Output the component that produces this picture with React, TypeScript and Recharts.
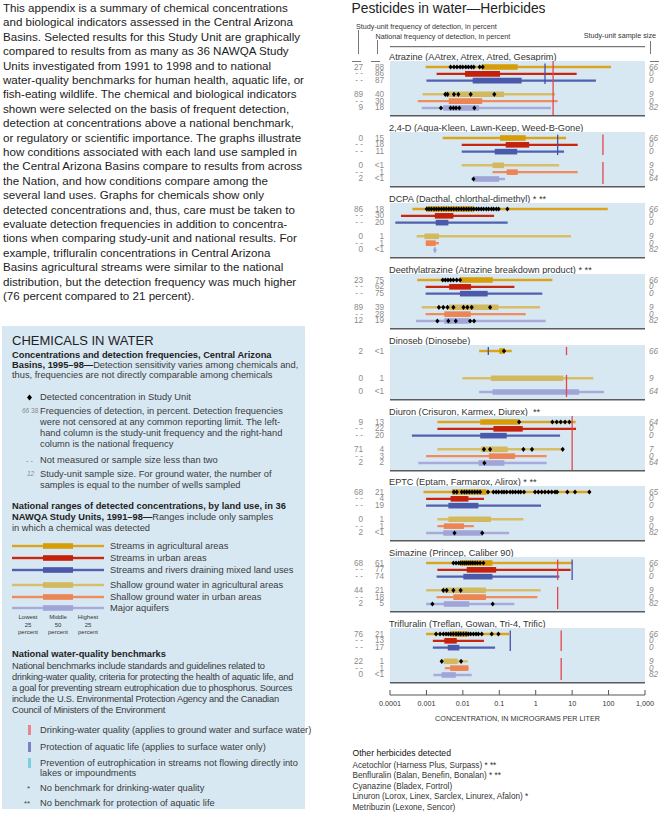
import React from "react";
import {
  ComposedChart,
  XAxis,
  YAxis,
  Line,
  Scatter,
  ReferenceLine,
  ReferenceArea,
} from "recharts";

const FONT = '"Liberation Sans", Arial, Helvetica, sans-serif';
const PANEL_BG = "#d8e8f3";

// concentration axis, micrograms per liter
const X_DOMAIN = [0.0001, 1000];
const X_TICKS = [0.0001, 0.001, 0.01, 0.1, 1, 10, 100, 1000];
const X_TICK_LABELS = ["0.0001", "0.001", "0.01", "0.1", "1", "10", "100", "1,000"];

// land uses in drawing order; slot 3 is the gap between surface and ground water
const LAND_USES = [
  "Streams in agricultural areas",
  "Streams in urban areas",
  "Streams and rivers draining mixed land uses",
  "Shallow ground water in agricultural areas",
  "Shallow ground water in urban areas",
  "Major aquifers",
];
const ROW_SLOTS = [0, 1, 2, 4, 5, 6];
const WHISKER_COLORS = ["#daa41f", "#c9260f", "#5161b0", "#d7be68", "#ef8b5c", "#a8aadb"];
const BOX_COLORS = ["#d69d08", "#c5200a", "#4a59a9", "#d3b95e", "#ec8453", "#a1a4d7"];

// [min, 25th percentile, 75th percentile, max] per land use; null = not shown
const ATRAZINE_RANGES = [
  [0.00095, 0.033, 0.32, 117],
  [0.0019, 0.0115, 0.105, 13.3],
  [0.001, 0.0186, 0.41, 45],
  [0.00078, 0.0032, 0.135, 3.4],
  [0.00058, 0.0041, 0.034, 4.0],
  [0.00074, 0.0029, 0.028, 2.6],
];
const ATRAZINE_DETECTS = [
  [0.0046, 0.0057, 0.0069, 0.0084, 0.0099, 0.012, 0.0142, 0.0171, 0.0199, 0.029, 0.035],
  [],
  [],
  [0.0033, 0.0038, 0.0057, 0.0075, 0.0164, 0.073],
  [],
  [0.0025, 0.0046, 0.0055, 0.0065, 0.008, 0.0207],
];
const ATRAZINE_FREQ = [["27", "88", "66"], ["--", "86", "0"], ["--", "87", "0"], ["89", "40", "9"], ["--", "30", "0"], ["9", "18", "82"]];
const ATRAZINE_BENCH = [
  { value: 1.8, kind: "life", spans: ["surface"] },
  { value: 3, kind: "drink", spans: ["all"] },
];

const D24_RANGES = [
  [0.0028, 0.105, 0.53, 6.8],
  [0.0093, 0.15, 0.66, 14.2],
  [0.0093, 0.075, 0.31, 6.0],
  [0.0093, 0.065, 0.135, 4.4],
  [0.065, 0.16, 0.32, 14.2],
  [0.0195, 0.0195, 0.099, 0.144],
];
const D24_DETECTS = [[], [], [], [], [], [0.0195]];
const D24_FREQ = [["0", "15", "66"], ["--", "18", "0"], ["--", "11", "0"], ["0", "<1", "9"], ["--", "1", "0"], ["2", "<1", "64"]];
const D24_BENCH = [
  { value: 4, kind: "life", spans: ["surface"] },
  { value: 70, kind: "drink", spans: ["surface", "ground"] },
];

const DCPA_RANGES = [
  [0.00041, 0.001, 0.02, 95],
  [0.0002, 0.0017, 0.0055, 0.072],
  [0.00014, 0.0018, 0.004, 0.17],
  [0.00054, 0.00088, 0.0022, 9.3],
  [0.00096, 0.00096, 0.0018, 0.0022],
  [0.00155, 0.0016, 0.0018, 0.0019],
];
const DCPA_DETECTS = [
  [0.00102, 0.00118, 0.00137, 0.00162, 0.00188, 0.00218, 0.00258, 0.003, 0.0035, 0.0041, 0.0048,
    0.0056, 0.0066, 0.0077, 0.0091, 0.0106, 0.0125, 0.0145, 0.0171, 0.02, 0.0235, 0.0272, 0.032,
    0.037, 0.044, 0.051, 0.061, 0.07, 0.083, 0.096, 0.167],
  [], [], [], [], [],
];
const DCPA_FREQ = [["86", "18", "66"], ["--", "30", "0"], ["--", "20", "0"], ["0", "1", "9"], ["--", "1", "0"], ["0", "<1", "82"]];
const DCPA_BENCH = [];

const DEA_RANGES = [
  [0.00056, 0.0083, 0.066, 2.87],
  [0.00095, 0.0042, 0.0168, 0.26],
  [0.00095, 0.0083, 0.048, 1.52],
  [0.00074, 0.0042, 0.094, 1.32],
  [0.00095, 0.0031, 0.0164, 0.53],
  [0.00052, 0.0031, 0.0148, 1.88],
];
const DEA_DETECTS = [
  [0.0028, 0.0033, 0.0039, 0.0046, 0.0055, 0.0068, 0.0084],
  [],
  [],
  [0.0022, 0.0029, 0.0038, 0.0055, 0.0104, 0.0133, 0.0175, 0.056],
  [],
  [0.002, 0.004, 0.0064, 0.0158, 0.0203],
];
const DEA_FREQ = [["23", "75", "66"], ["--", "62", "0"], ["--", "75", "0"], ["89", "39", "9"], ["--", "28", "0"], ["12", "19", "82"]];
const DEA_BENCH = [];

const DINOSEB_RANGES = [
  [0.028, 0.1, 0.14, 0.22],
  null,
  null,
  [0.0097, 0.059, 5.7, 38],
  null,
  [0.028, 0.065, 15.5, 75],
];
const DINOSEB_DETECTS = [[0.135], [], [], [], [], []];
const DINOSEB_FREQ = [["2", "<1", "66"], null, null, ["0", "1", "9"], null, ["0", "<1", "64"]];
const DINOSEB_BENCH = [
  { value: 0.05, kind: "life", spans: ["surface0"] },
  { value: 7, kind: "drink", spans: ["surface0", "ground"] },
];

const DIURON_RANGES = [
  [0.002, 0.03, 0.35, 12.5],
  [0.002, 0.069, 0.44, 12.8],
  [0.0004, 0.03, 0.16, 4.66],
  [0.002, 0.0316, 0.17, 5.75],
  [0.00098, 0.052, 0.27, 2.0],
  [0.0006, 0.027, 0.138, 2.0],
];
const DIURON_DETECTS = [
  [0.35, 2.87, 3.77, 4.86, 6.38, 8.4],
  [],
  [],
  [0.038, 0.056, 0.46, 0.79, 5.5],
  [],
  [0.039],
];
const DIURON_FREQ = [["9", "13", "64"], ["--", "22", "0"], ["--", "20", "0"], ["71", "4", "7"], ["--", "3", "0"], ["2", "2", "64"]];
const DIURON_BENCH = [{ value: 10, kind: "drink", spans: ["all"] }];

const EPTC_RANGES = [
  [0.00083, 0.005, 0.045, 29.7],
  [0.00098, 0.0046, 0.0142, 0.038],
  [0.00098, 0.004, 0.0267, 1.4],
  [0.002, 0.004, 0.059, 0.46],
  [0.002, 0.003, 0.0108, 0.02],
  [0.00098, 0.0029, 0.035, 0.186],
];
const EPTC_DETECTS = [
  [0.0057, 0.0068, 0.0093, 0.011, 0.0128, 0.0151, 0.0179, 0.0212, 0.0251, 0.0297, 0.049, 0.069,
    0.082, 0.096, 0.117, 0.135, 0.16, 0.198, 0.234, 0.277, 0.334, 0.388, 0.478, 0.96, 1.18, 1.46,
    1.8, 2.23, 2.75, 3.39, 3.85, 7.4, 12, 29.7],
  [],
  [],
  [],
  [],
  [0.0059, 0.034],
];
const EPTC_FREQ = [["68", "21", "65"], ["--", "4", "0"], ["--", "19", "0"], ["0", "1", "9"], ["--", "1", "0"], ["2", "<1", "82"]];
const EPTC_BENCH = [];

const SIMAZINE_RANGES = [
  [0.00098, 0.0084, 0.065, 10.1],
  [0.002, 0.0128, 0.082, 9.1],
  [0.0019, 0.0103, 0.065, 4.46],
  [0.00098, 0.0029, 0.043, 1.37],
  [0.0019, 0.0055, 0.043, 1.11],
  [0.00098, 0.003, 0.015, 0.26],
];
const SIMAZINE_DETECTS = [
  [0.0055, 0.0065, 0.0077, 0.0087, 0.0099, 0.0113, 0.0128, 0.0145, 0.0164, 0.0187, 0.0216, 0.0251, 0.0297, 0.0366],
  [],
  [],
  [0.0029, 0.0036, 0.0055, 0.0087],
  [],
  [0.00146, 0.066],
];
const SIMAZINE_FREQ = [["68", "61", "66"], ["--", "77", "0"], ["--", "74", "0"], ["44", "21", "9"], ["--", "18", "0"], ["2", "5", "82"]];
const SIMAZINE_BENCH = [
  { value: 4, kind: "drink", spans: ["surface", "ground"] },
  { value: 10, kind: "life", spans: ["surface"] },
];

const TRIFLURALIN_RANGES = [
  [0.00098, 0.0046, 0.0136, 0.185],
  [0.0015, 0.0031, 0.0068, 0.038],
  [0.0015, 0.00385, 0.008, 0.0766],
  [0.0025, 0.003, 0.0072, 0.0136],
  [0.0032, 0.0045, 0.0142, 0.0142],
  [0.00155, 0.0026, 0.0064, 0.0175],
];
const TRIFLURALIN_DETECTS = [
  [0.00184, 0.00237, 0.00292, 0.00346, 0.004, 0.00464, 0.0055, 0.0065, 0.00754, 0.00874, 0.01035,
    0.01225, 0.0142, 0.0164, 0.0195, 0.023, 0.0267, 0.033, 0.062, 0.0945],
  [],
  [],
  [0.00263, 0.00893],
  [],
  [],
];
const TRIFLURALIN_FREQ = [["76", "21", "66"], ["--", "13", "0"], ["--", "17", "0"], ["22", "1", "9"], ["--", "1", "0"], ["0", "<1", "82"]];
const TRIFLURALIN_BENCH = [
  { value: 0.2, kind: "life", spans: ["surface"] },
  { value: 5, kind: "drink", spans: ["surface", "ground"] },
];

const HERBICIDES = [
  { title: "Atrazine (AAtrex, Atrex, Atred, Gesaprim)", ranges: ATRAZINE_RANGES, detects: ATRAZINE_DETECTS, freq: ATRAZINE_FREQ, bench: ATRAZINE_BENCH },
  { title: "2,4-D (Aqua-Kleen, Lawn-Keep, Weed-B-Gone)", ranges: D24_RANGES, detects: D24_DETECTS, freq: D24_FREQ, bench: D24_BENCH },
  { title: "DCPA (Dacthal, chlorthal-dimethyl) * **", ranges: DCPA_RANGES, detects: DCPA_DETECTS, freq: DCPA_FREQ, bench: DCPA_BENCH },
  { title: "Deethylatrazine (Atrazine breakdown product) * **", ranges: DEA_RANGES, detects: DEA_DETECTS, freq: DEA_FREQ, bench: DEA_BENCH },
  { title: "Dinoseb (Dinosebe)", ranges: DINOSEB_RANGES, detects: DINOSEB_DETECTS, freq: DINOSEB_FREQ, bench: DINOSEB_BENCH },
  { title: "Diuron (Crisuron, Karmex, Diurex)  **", ranges: DIURON_RANGES, detects: DIURON_DETECTS, freq: DIURON_FREQ, bench: DIURON_BENCH },
  { title: "EPTC (Eptam, Farmarox, Alirox) * **", ranges: EPTC_RANGES, detects: EPTC_DETECTS, freq: EPTC_FREQ, bench: EPTC_BENCH },
  { title: "Simazine (Princep, Caliber 90)", ranges: SIMAZINE_RANGES, detects: SIMAZINE_DETECTS, freq: SIMAZINE_FREQ, bench: SIMAZINE_BENCH },
  { title: "Trifluralin (Treflan, Gowan, Tri-4, Trific)", ranges: TRIFLURALIN_RANGES, detects: TRIFLURALIN_DETECTS, freq: TRIFLURALIN_FREQ, bench: TRIFLURALIN_BENCH },
];

const OTHER_HERBICIDES = [
  "Acetochlor (Harness Plus, Surpass) * **",
  "Benfluralin (Balan, Benefin, Bonalan) * **",
  "Cyanazine (Bladex, Fortrol)",
  "Linuron (Lorox, Linex, Sarclex, Linurex, Afalon) *",
  "Metribuzin (Lexone, Sencor)",
];

const INTRO_LINES = [
  "This appendix is a summary of chemical concentrations",
  "and biological indicators assessed in the Central Arizona",
  "Basins. Selected results for this Study Unit are graphically",
  "compared to results from as many as 36 NAWQA Study",
  "Units investigated from 1991 to 1998 and to national",
  "water-quality benchmarks for human health, aquatic life, or",
  "fish-eating wildlife. The chemical and biological indicators",
  "shown were selected on the basis of frequent detection,",
  "detection at concentrations above a national benchmark,",
  "or regulatory or scientific importance. The graphs illustrate",
  "how conditions associated with each land use sampled in",
  "the Central Arizona Basins compare to results from across",
  "the Nation, and how conditions compare among the",
  "several land uses. Graphs for chemicals show only",
  "detected concentrations and, thus, care must be taken to",
  "evaluate detection frequencies in addition to concentra-",
  "tions when comparing study-unit and national results. For",
  "example, trifluralin concentrations in Central Arizona",
  "Basins agricultural streams were similar to the national",
  "distribution, but the detection frequency was much higher",
  "(76 percent compared to 21 percent).",
];

const BENCH_LINES = [
  "National benchmarks include standards and guidelines related to",
  "drinking-water quality, criteria for protecting the health of aquatic life, and",
  "a goal for preventing stream eutrophication due to phosphorus. Sources",
  "include the U.S. Environmental Protection Agency and the Canadian",
  "Council of Ministers of the Environment",
];

// panel geometry (pixels)
const ROW_PX = 6.83;
const PAD_TOP = 6;
const BG_H = 54;
const CHART_H = 57;
const FIRST_ROW_Y = 67;
const PANEL_PITCH = 70.9;
const Y_TOP = -PAD_TOP / ROW_PX;
const Y_BOTTOM = (CHART_H - PAD_TOP) / ROW_PX;
const BG_BOTTOM = (BG_H - PAD_TOP) / ROW_PX;
const RULE_Y = (BG_H - PAD_TOP + 0.8) / ROW_PX;

const SPANS: Record<string, [number, number]> = {
  all: [Y_TOP, BG_BOTTOM],
  surface: [-0.5, 2.5],
  surface0: [-0.6, 0.6],
  ground: [3.5, 6.75],
};
const BENCH_COLORS: Record<string, string> = { drink: "#e3464c", life: "#4650a6" };

const Diamond = (props: any) => {
  const { cx, cy } = props;
  if (cx == null || cy == null) return null;
  return (
    <polygon
      points={`${cx},${cy - 2.6} ${cx + 2.1},${cy} ${cx},${cy + 2.6} ${cx - 2.1},${cy}`}
      fill="#000"
    />
  );
};

const RowLabels = (props: any) => {
  const { y, payload, freq } = props;
  const lab = freq[ROW_SLOTS.indexOf(payload.value)];
  if (!lab) return null;
  const fmt = (s: string) => (s === "--" ? "- -" : s);
  return (
    <g fontFamily={FONT} fontSize={8.2} fill="#8c8c8c">
      <text x={33} y={y} textAnchor="end" dominantBaseline="central">{fmt(lab[0])}</text>
      <text x={54} y={y} textAnchor="end" dominantBaseline="central">{fmt(lab[1])}</text>
      <text x={319} y={y} textAnchor="start" dominantBaseline="central" fontStyle="italic">{lab[2]}</text>
    </g>
  );
};

function HerbicidePanel({ chem, index }: { chem: any; index: number }) {
  const top = FIRST_ROW_Y + index * PANEL_PITCH - PAD_TOP;
  const labelSlots = ROW_SLOTS.filter((_, i) => chem.freq[i]);
  const points = chem.detects.flatMap((row: number[], i: number) =>
    row.map((v) => ({ x: v, y: ROW_SLOTS[i] }))
  );
  return (
    <>
      <div
        style={{
          position: "absolute",
          left: 389,
          top: top - 10,
          lineHeight: "12px",
          fontSize: 9.2,
          color: "#333",
          whiteSpace: "pre",
        }}
      >
        {chem.title}
      </div>
      <div style={{ position: "absolute", left: 330, top }}>
        <ComposedChart width={330} height={CHART_H} margin={{ top: 0, right: 15, bottom: 0, left: 0 }}>
          <XAxis xAxisId="c" dataKey="x" type="number" scale="log" domain={X_DOMAIN} allowDataOverflow hide />
          <YAxis
            yAxisId="r"
            dataKey="y"
            type="number"
            domain={[Y_TOP, Y_BOTTOM]}
            reversed
            allowDataOverflow
            ticks={labelSlots}
            interval={0}
            width={60}
            axisLine={false}
            tickLine={false}
            tick={(p: any) => <RowLabels {...p} freq={chem.freq} />}
          />
          <ReferenceArea
            xAxisId="c"
            yAxisId="r"
            x1={X_DOMAIN[0]}
            x2={X_DOMAIN[1]}
            y1={Y_TOP}
            y2={BG_BOTTOM}
            fill={PANEL_BG}
            fillOpacity={1}
            stroke="none"
          />
          <ReferenceLine xAxisId="c" yAxisId="r" y={RULE_Y} stroke="#5a5a5a" strokeWidth={1.6} />
          {chem.ranges.map((r: number[] | null, i: number) =>
            r ? (
              <Line
                key={`w${i}`}
                xAxisId="c"
                yAxisId="r"
                data={[{ x: r[0], y: ROW_SLOTS[i] }, { x: r[3], y: ROW_SLOTS[i] }]}
                dataKey="y"
                name={LAND_USES[i]}
                stroke={WHISKER_COLORS[i]}
                strokeWidth={2.4}
                dot={false}
                activeDot={false}
                isAnimationActive={false}
              />
            ) : null
          )}
          {chem.ranges.map((r: number[] | null, i: number) =>
            r ? (
              <Line
                key={`b${i}`}
                xAxisId="c"
                yAxisId="r"
                data={[{ x: r[1], y: ROW_SLOTS[i] }, { x: r[2], y: ROW_SLOTS[i] }]}
                dataKey="y"
                name={LAND_USES[i]}
                stroke={BOX_COLORS[i]}
                strokeWidth={5.6}
                dot={false}
                activeDot={false}
                isAnimationActive={false}
              />
            ) : null
          )}
          {chem.bench.flatMap((b: any, bi: number) =>
            b.spans.map((s: string) => (
              <ReferenceLine
                key={`bm${bi}${s}`}
                xAxisId="c"
                yAxisId="r"
                segment={[
                  { x: b.value, y: SPANS[s][0] },
                  { x: b.value, y: SPANS[s][1] },
                ]}
                stroke={BENCH_COLORS[b.kind]}
                strokeWidth={1.3}
              />
            ))
          )}
          <Scatter
            xAxisId="c"
            yAxisId="r"
            data={points}
            shape={Diamond}
            isAnimationActive={false}
          />
        </ComposedChart>
      </div>
    </>
  );
}

const BottomTick = (props: any) => {
  const { x, y, payload } = props;
  const i = X_TICKS.indexOf(payload.value);
  return (
    <text x={x} y={y} textAnchor="middle" dominantBaseline="central" fontSize={7.2} fill="#333" fontFamily={FONT}>
      {X_TICK_LABELS[i]}
    </text>
  );
};

function AxisFrame() {
  const axisPts = X_TICKS.map((t) => ({ x: t, y: 0.5 }));
  return (
    <div style={{ position: "absolute", left: 330, top: 0 }}>
      <ComposedChart width={330} height={813} margin={{ top: 40, right: 15, bottom: 88, left: 60 }}>
        <XAxis
          xAxisId="top"
          orientation="top"
          dataKey="x"
          type="number"
          scale="log"
          domain={X_DOMAIN}
          allowDataOverflow
          ticks={X_TICKS}
          interval={0}
          height={6.7}
          tick={false}
          tickSize={-4}
          stroke="#555"
        />
        <XAxis
          xAxisId="bottom"
          orientation="bottom"
          dataKey="x"
          type="number"
          scale="log"
          domain={X_DOMAIN}
          allowDataOverflow
          ticks={X_TICKS}
          interval={0}
          height={30}
          tickSize={-5}
          tickMargin={13}
          tick={BottomTick}
          stroke="#555"
        />
        <YAxis yAxisId="f" dataKey="y" type="number" domain={[0, 1]} hide />
        <Scatter xAxisId="top" yAxisId="f" data={axisPts} fill="none" shape={() => <g />} isAnimationActive={false} />
        <Scatter xAxisId="bottom" yAxisId="f" data={axisPts} fill="none" shape={() => <g />} isAnimationActive={false} />
      </ComposedChart>
    </div>
  );
}

function Txt({ x, y, size, lh, children, style }: any) {
  const h = lh || Math.round(size * 1.25);
  return (
    <div
      style={{
        position: "absolute",
        left: x,
        top: y - h / 2,
        lineHeight: `${h}px`,
        fontSize: size,
        whiteSpace: "pre",
        ...style,
      }}
    >
      {children}
    </div>
  );
}

const LEGEND_Y = [546, 558.3, 570, 585, 597.3, 608.3];

function LeftColumn() {
  const lg = { color: "#3a3a3a" };
  return (
    <>
      {INTRO_LINES.map((l, i) => (
        <Txt key={i} x={3} y={8 + i * 14.4} size={11.6} lh={14} style={{ color: "#1c1c1c" }}>
          {l}
        </Txt>
      ))}
      <div style={{ position: "absolute", left: 2, top: 326, width: 303, height: 483, background: PANEL_BG }} />
      <Txt x={12} y={341} size={13} style={{ color: "#222" }}>CHEMICALS IN WATER</Txt>
      <Txt x={12} y={355} size={9.3} lh={10} style={{ fontWeight: "bold", color: "#222" }}>
        Concentrations and detection frequencies, Central Arizona
      </Txt>
      <Txt x={12} y={365} size={9.3} lh={10} style={lg}>
        <b style={{ color: "#222" }}>Basins, 1995–98—</b>Detection sensitivity varies among chemicals and,
      </Txt>
      <Txt x={12} y={375} size={9.3} lh={10} style={lg}>
        thus, frequencies are not directly comparable among chemicals
      </Txt>

      <svg style={{ position: "absolute", left: 26, top: 393.5 }} width={7} height={7}>
        <polygon points="3.5,0.5 6,3.5 3.5,6.5 1,3.5" fill="#000" />
      </svg>
      <Txt x={40} y={396.7} size={9.3} style={lg}>Detected concentration in Study Unit</Txt>

      <Txt x={22} y={411} size={6.5} style={{ color: "#888" }}>
        <i>66</i> 38
      </Txt>
      {[
        "Frequencies of detection, in percent. Detection frequencies",
        "were not censored at any common reporting limit. The left-",
        "hand column is the study-unit frequency and the right-hand",
        "column is the national frequency",
      ].map((l, i) => (
        <Txt key={i} x={40} y={411 + i * 11.3} size={9.3} lh={11} style={lg}>
          {l}
        </Txt>
      ))}
      <Txt x={26} y={460} size={7.5} style={{ color: "#888" }}>- -</Txt>
      <Txt x={40} y={460} size={9.3} style={lg}>Not measured or sample size less than two</Txt>
      <Txt x={27} y={474.3} size={6.5} style={{ color: "#888", fontStyle: "italic" }}>12</Txt>
      <Txt x={40} y={474.3} size={9.3} lh={11} style={lg}>
        Study-unit sample size. For ground water, the number of
      </Txt>
      <Txt x={40} y={485.6} size={9.3} lh={11} style={lg}>
        samples is equal to the number of wells sampled
      </Txt>

      <Txt x={12} y={506.7} size={9.3} lh={10.8} style={{ fontWeight: "bold", color: "#222" }}>
        National ranges of detected concentrations, by land use, in 36
      </Txt>
      <Txt x={12} y={517.5} size={9.3} lh={10.8} style={lg}>
        <b style={{ color: "#222" }}>NAWQA Study Units, 1991–98—</b>Ranges include only samples
      </Txt>
      <Txt x={12} y={528.3} size={9.3} lh={10.8} style={lg}>
        in which a chemical was detected
      </Txt>
      {LAND_USES.map((name, i) => (
        <React.Fragment key={name}>
          <svg style={{ position: "absolute", left: 12, top: LEGEND_Y[i] - 3 }} width={93} height={6}>
            <rect x={0} y={1.8} width={92} height={2.4} fill={WHISKER_COLORS[i]} />
            <rect x={31} y={0.2} width={30} height={5.6} fill={BOX_COLORS[i]} />
          </svg>
          <Txt x={110} y={LEGEND_Y[i]} size={9.3} style={lg}>
            {name}
          </Txt>
        </React.Fragment>
      ))}
      {[
        ["Lowest", 28],
        ["Middle", 58],
        ["Highest", 88],
      ].map(([w, cx]: any, i) => (
        <div
          key={w}
          style={{
            position: "absolute",
            left: cx - 20,
            width: 40,
            top: 614,
            textAlign: "center",
            fontSize: 6,
            lineHeight: "7.5px",
            color: "#333",
          }}
        >
          {w}
          <br />
          {i === 1 ? "50" : "25"}
          <br />
          percent
        </div>
      ))}

      <Txt x={12} y={654} size={9.3} style={{ fontWeight: "bold", color: "#222" }}>
        National water-quality benchmarks
      </Txt>
      {BENCH_LINES.map((l, i) => (
        <Txt key={i} x={12} y={666.7 + i * 11} size={9.3} lh={11} style={{ ...lg, letterSpacing: -0.22 }}>
          {l}
        </Txt>
      ))}
      {[
        ["#e8848b", 730, "Drinking-water quality (applies to ground water and surface water)"],
        ["#7d80c2", 746.7, "Protection of aquatic life (applies to surface water only)"],
        ["#7ccfe0", 762.7, "Prevention of eutrophication in streams not flowing directly into"],
      ].map(([c, y, t]: any) => (
        <React.Fragment key={t}>
          <div style={{ position: "absolute", left: 28, top: y - 5, width: 2.5, height: 10, background: c }} />
          <Txt x={40} y={y} size={9.3} style={lg}>
            {t}
          </Txt>
        </React.Fragment>
      ))}
      <Txt x={40} y={772.7} size={9.3} style={lg}>lakes or impoundments</Txt>
      <Txt x={27} y={788.5} size={8} style={{ color: "#444" }}>*</Txt>
      <Txt x={40} y={787.7} size={9.3} style={lg}>No benchmark for drinking-water quality</Txt>
      <Txt x={24} y={803.5} size={8} style={{ color: "#444" }}>**</Txt>
      <Txt x={40} y={802.7} size={9.3} style={lg}>No benchmark for protection of aquatic life</Txt>
    </>
  );
}

function RightHeader() {
  const lc = "#777";
  return (
    <>
      <Txt x={351.5} y={8.5} size={13.8} style={{ color: "#222" }}>Pesticides in water—Herbicides</Txt>
      <Txt x={356} y={26} size={7.2} style={{ color: "#333" }}>Study-unit frequency of detection, in percent</Txt>
      <Txt x={375.5} y={36} size={7.2} style={{ color: "#333" }}>National frequency of detection, in percent</Txt>
      <div style={{ position: "absolute", right: 4, top: 31, fontSize: 7.2, lineHeight: "10px", color: "#333", whiteSpace: "pre" }}>
        Study-unit sample size
      </div>
      <div style={{ position: "absolute", left: 358, top: 30, width: 1, height: 24, background: lc }} />
      <div style={{ position: "absolute", left: 377, top: 40, width: 1, height: 14, background: lc }} />
      <div style={{ position: "absolute", left: 650, top: 41, width: 1, height: 13, background: lc }} />
      <div style={{ position: "absolute", left: 352, top: 61, width: 9, height: 1, background: lc }} />
      <div style={{ position: "absolute", left: 371, top: 61, width: 9, height: 1, background: lc }} />
      <div style={{ position: "absolute", left: 650, top: 61, width: 9, height: 1, background: lc }} />

      <div
        style={{
          position: "absolute",
          left: 390,
          width: 255,
          top: 714,
          textAlign: "center",
          fontSize: 7.2,
          lineHeight: "10px",
          color: "#333",
        }}
      >
        CONCENTRATION, IN MICROGRAMS PER LITER
      </div>
      <Txt x={352.5} y={753} size={8.6} style={{ color: "#111" }}>Other herbicides detected</Txt>
      {OTHER_HERBICIDES.map((t, i) => (
        <Txt key={t} x={352.5} y={765.5 + i * 10.6} size={8.2} style={{ color: "#333" }}>
          {t}
        </Txt>
      ))}
    </>
  );
}

export default function App() {
  return (
    <div
      style={{
        position: "absolute",
        left: 0,
        top: 0,
        width: 660,
        height: 813,
        overflow: "hidden",
        background: "#fff",
        fontFamily: FONT,
      }}
    >
      <LeftColumn />
      <AxisFrame />
      {HERBICIDES.map((chem, i) => (
        <HerbicidePanel key={chem.title} chem={chem} index={i} />
      ))}
      <RightHeader />
    </div>
  );
}
